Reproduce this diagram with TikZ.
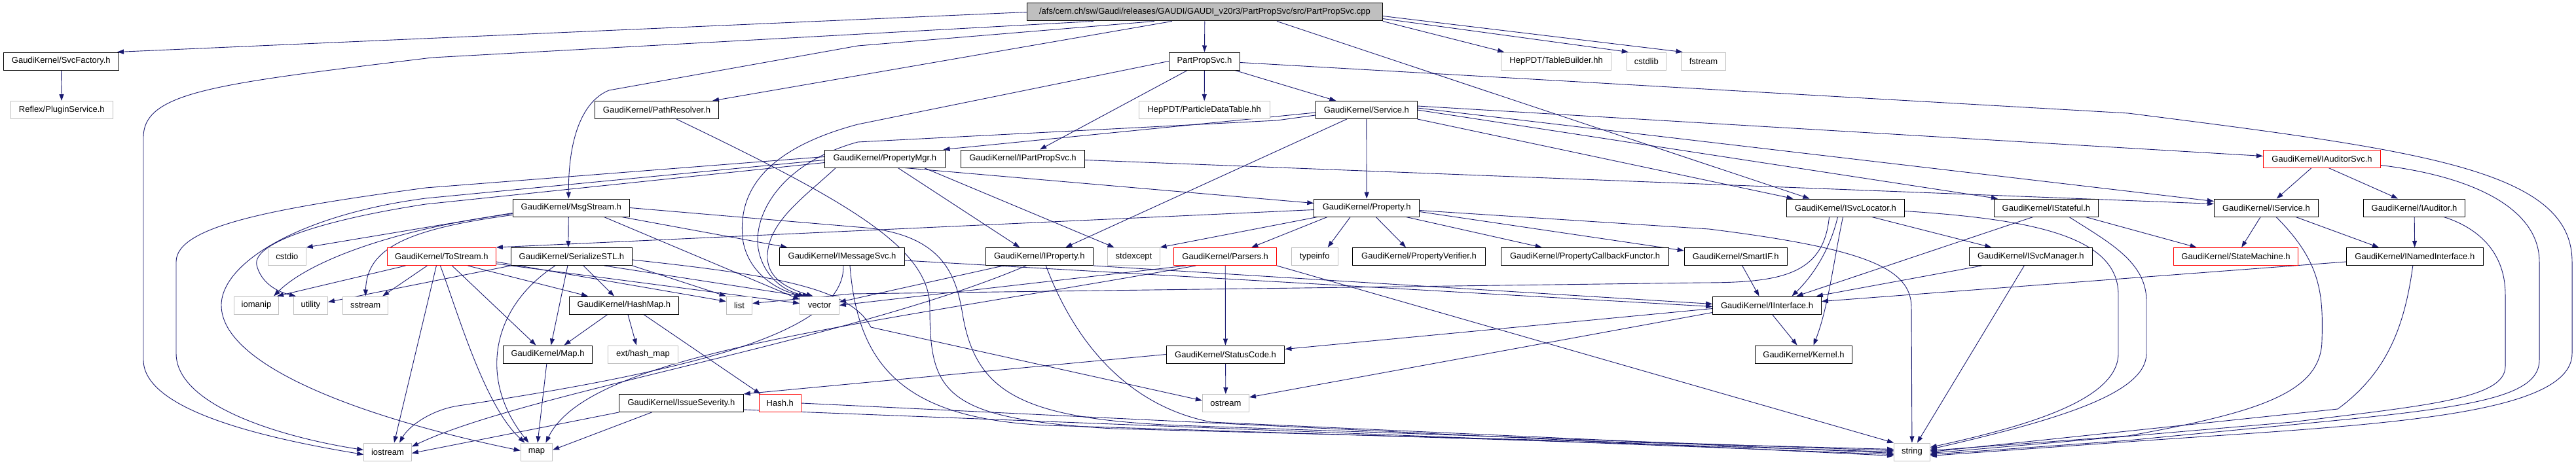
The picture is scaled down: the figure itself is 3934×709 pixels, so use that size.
\documentclass[tikz,border=0pt]{standalone}
\usepackage{fontspec}
\setmainfont{Liberation Sans}
\usetikzlibrary{arrows.meta}
\definecolor{navy}{RGB}{25,25,112}
\definecolor{extgray}{RGB}{191,191,191}
\definecolor{redb}{RGB}{255,0,0}
\pgfdeclarelayer{background}
\pgfsetlayers{background,main}
\begin{document}
\begin{tikzpicture}[x=1pt,y=-1pt,
  nd/.style={draw=black, fill=white, line width=1pt, rectangle, minimum height=27pt, inner sep=0pt, font=\fontsize{13}{15}\selectfont, text=black},
  ext/.style={nd, draw=extgray},
  rd/.style={nd, draw=redb},
  mn/.style={nd, fill=extgray},
  lnk/.style={draw=navy, line width=0.9pt, line join=round, -{Triangle[length=10pt,width=7pt]}},
]
\useasboundingbox (0,0) rectangle (3934,709);
% row 0
\node[mn, minimum width=542.7pt] (main) at (1839.9,18.5) {/afs/cern.ch/sw/Gaudi/releases/GAUDI/GAUDI\_v20r3/PartPropSvc/src/PartPropSvc.cpp};
% row 1
\node[nd, minimum width=176.3pt] (svcf) at (93.3,93.5) {GaudiKernel/SvcFactory.h};
\node[nd, minimum width=108.2pt] (pps) at (1839.4,93.5) {PartPropSvc.h};
\node[ext, minimum width=168pt] (tb) at (2376.6,93.5) {HepPDT/TableBuilder.hh};
\node[ext, minimum width=60.1pt] (cstdlib) at (2514.3,93.5) {cstdlib};
\node[ext, minimum width=68.7pt] (fstream) at (2601.5,93.5) {fstream};
% row 2
\node[ext, minimum width=156.6pt] (plugin) at (94.3,168) {Reflex/PluginService.h};
\node[nd, minimum width=188.1pt] (pathres) at (1003,168) {GaudiKernel/PathResolver.h};
\node[ext, minimum width=200.4pt] (pdt) at (1839.2,168) {HepPDT/ParticleDataTable.hh};
\node[nd, minimum width=154.8pt] (service) at (2086.8,168) {GaudiKernel/Service.h};
% row 3
\node[nd, minimum width=183.6pt] (pmgr) at (1351.3,242.5) {GaudiKernel/PropertyMgr.h};
\node[nd, minimum width=189pt] (ipps) at (1562,242.5) {GaudiKernel/IPartPropSvc.h};
\node[rd, minimum width=179.3pt] (iaudsvc) at (3546,242.5) {GaudiKernel/IAuditorSvc.h};
% row 4
\node[nd, minimum width=178.5pt] (msg) at (872.3,317.5) {GaudiKernel/MsgStream.h};
\node[nd, minimum width=160.8pt] (prop) at (2087.2,317.5) {GaudiKernel/Property.h};
\node[nd, minimum width=180pt] (isvcloc) at (2818.5,317.5) {GaudiKernel/ISvcLocator.h};
\node[nd, minimum width=159.1pt] (istate) at (3124.9,317.5) {GaudiKernel/IStateful.h};
\node[nd, minimum width=159.2pt] (iservice) at (3460.9,317.5) {GaudiKernel/IService.h};
\node[nd, minimum width=155.3pt] (iaud) at (3687,317.5) {GaudiKernel/IAuditor.h};
% row 5
\node[ext, minimum width=57.6pt] (cstdio) at (438.4,392) {cstdio};
\node[rd, minimum width=165.9pt] (tostream) at (674.4,392) {GaudiKernel/ToStream.h};
\node[nd, minimum width=184.8pt] (serial) at (872.9,392) {GaudiKernel/SerializeSTL.h};
\node[nd, minimum width=190.3pt] (imsg) at (1286,392) {GaudiKernel/IMessageSvc.h};
\node[nd, minimum width=164.6pt] (iprop) at (1587.3,392) {GaudiKernel/IProperty.h};
\node[ext, minimum width=79.1pt] (stdexcept) at (1731.5,392) {stdexcept};
\node[rd, minimum width=156.6pt] (parsers) at (1871.2,392) {GaudiKernel/Parsers.h};
\node[ext, minimum width=70.7pt] (typeinfo) at (2007.7,392) {typeinfo};
\node[nd, minimum width=203.3pt] (pverif) at (2167,392) {GaudiKernel/PropertyVerifier.h};
\node[nd, minimum width=256pt] (pcb) at (2420.6,392) {GaudiKernel/PropertyCallbackFunctor.h};
\node[nd, minimum width=157.1pt] (smartif) at (2650.7,392) {GaudiKernel/SmartIF.h};
\node[nd, minimum width=188.6pt] (isvcmgr) at (3101.3,392) {GaudiKernel/ISvcManager.h};
\node[rd, minimum width=190.2pt] (statem) at (3414.5,392) {GaudiKernel/StateMachine.h};
\node[nd, minimum width=208.9pt] (inamed) at (3687.8,392) {GaudiKernel/INamedInterface.h};
% row 6
\node[ext, minimum width=68.2pt] (iomanip) at (391.5,466.5) {iomanip};
\node[ext, minimum width=52.2pt] (utility) at (474.4,466.5) {utility};
\node[ext, minimum width=69.1pt] (sstream) at (558.2,466.5) {sstream};
\node[nd, minimum width=167.1pt] (hashmap) at (952.9,466.5) {GaudiKernel/HashMap.h};
\node[ext, minimum width=39.6pt] (list) at (1129,466.5) {list};
\node[ext, minimum width=59.8pt] (vector) at (1251.5,466.5) {vector};
\node[nd, minimum width=165.8pt] (iinterface) at (2698.5,466.5) {GaudiKernel/IInterface.h};
% row 7
\node[nd, minimum width=136.4pt] (gmap) at (836.5,541.5) {GaudiKernel/Map.h};
\node[ext, minimum width=107.4pt] (exthm) at (981.9,541.5) {ext/hash\_map};
\node[nd, minimum width=180.7pt] (status) at (1871.5,541.5) {GaudiKernel/StatusCode.h};
\node[nd, minimum width=148.2pt] (kernel) at (2754.5,541.5) {GaudiKernel/Kernel.h};
% row 8
\node[nd, minimum width=189.8pt] (issue) at (1040.4,616) {GaudiKernel/IssueSeverity.h};
\node[rd, minimum width=64pt] (hash) at (1191.3,616) {Hash.h};
\node[ext, minimum width=71.1pt] (ostream) at (1871.9,616) {ostream};
% row 9
\node[ext, minimum width=72.8pt] (iostream) at (592,690.5) {iostream};
\node[ext, minimum width=48.4pt] (smap) at (819.4,690.5) {map};
\node[ext, minimum width=54.8pt] (string) at (2919.9,690.5) {string};

\begin{pgfonlayer}{background}
\fill[white] (0,0) rectangle (3934,709);
% main file
\draw[lnk] (main.west) -- ([xshift=-3pt]svcf.north east);
\draw[lnk] ([xshift=-170pt]main.south) -- (660,88) .. controls (330,128) and (219,140) .. (219,210) -- (219,550) .. controls (219,630) and (420,672) .. ([yshift=-4pt]iostream.west);
\draw[lnk] ([xshift=-77pt]main.south) -- (1310,70) -- (930,138) .. controls (895,152) and (868,200) .. ([xshift=-4pt]msg.north);
\draw[lnk] ([xshift=-50pt]main.south) -- ([xshift=85pt]pathres.north);
\draw[lnk] (main) -- (pps);
\draw[lnk] (main.south east) -- ([xshift=5pt]tb.north west);
\draw[lnk] ([yshift=4pt]main.south east) -- ([xshift=3pt]cstdlib.north west);
\draw[lnk] ([yshift=8pt]main.south east) -- ([xshift=3pt]fstream.north west);
\draw[lnk] ([xshift=110pt]main.south) -- ([xshift=-55pt]isvcloc.north);
% SvcFactory
\draw[lnk] (svcf) -- (plugin);
% PartPropSvc.h
\draw[lnk] (pps) -- (pdt);
\draw[lnk] (pps) -- (ipps);
\draw[lnk] (pps) -- (service);
\draw[lnk] (pps.west) -- (1310,190) .. controls (1160,230) and (1125,300) .. (1135,370) .. controls (1145,420) and (1190,445) .. ([xshift=-22pt]vector.north);
\draw[lnk] ([yshift=-2pt]pps.east) -- (3250,173) .. controls (3700,230) and (3928,260) .. (3928,400) -- (3928,540) .. controls (3928,640) and (3600,650) .. (3250,675) -- ([yshift=-6pt]string.east);
% PathResolver
\draw[lnk] ([xshift=30pt]pathres.south) .. controls (1300,310) and (1420,380) .. (1420,470) .. controls (1420,600) and (1440,640) .. (1700,655) -- ([yshift=4pt]string.west);
% Service
\draw[lnk] (service) -- (prop);
\draw[lnk] ([yshift=-4pt]service.west) -- ([xshift=-3pt]pmgr.north east);
\draw[lnk] ([xshift=-30pt]service.south) -- ([xshift=40pt]iprop.north);
\draw[lnk] (service.south east) -- ([xshift=-80pt]isvcloc.north);
\draw[lnk] (service.east) -- ([xshift=6pt]istate.north west);
\draw[lnk] ([yshift=3pt]service.east) -- ([yshift=10pt]iservice.west);
\draw[lnk] ([yshift=6pt]service.east) -- ([yshift=4pt]iaudsvc.west);
\draw[lnk] ([yshift=-8pt]service.west) -- (1950,184) -- (1310,217) .. controls (1190,250) and (1150,330) .. (1158,380) .. controls (1165,420) and (1195,445) .. ([xshift=-16pt]vector.north);
% PropertyMgr
\draw[lnk] ([xshift=30pt]pmgr.south) -- ([yshift=7pt]prop.west);
\draw[lnk] ([xshift=20pt]pmgr.south) -- ([xshift=-30pt]iprop.north);
\draw[lnk] ([xshift=60pt]pmgr.south) -- ([xshift=-30pt]stdexcept.north);
\draw[lnk] ([yshift=3pt]pmgr.west) -- (650,287) .. controls (420,318) and (269,345) .. (269,400) -- (269,540) .. controls (269,620) and (430,668) .. ([yshift=3pt]iostream.west);
\draw[lnk] ([yshift=-2pt]pmgr.west) -- (650,303) .. controls (460,328) and (340,400) .. (338,465) .. controls (336,560) and (560,640) .. ([yshift=2pt]smap.west);
\draw[lnk] ([yshift=-6pt]pmgr.west) -- (650,312) .. controls (500,335) and (385,370) .. (392,405) .. controls (398,430) and (420,445) .. ([xshift=4pt]utility.north west);
\draw[lnk] ([xshift=-75pt]pmgr.south) .. controls (1230,300) and (1170,340) .. (1172,395) .. controls (1174,425) and (1200,440) .. ([xshift=-10pt]vector.north);
% IPartPropSvc
\draw[lnk] ([yshift=-2pt]ipps.east) -- ([yshift=6pt]iservice.west);
% IAuditorSvc
\draw[lnk] (iaudsvc) -- (iservice);
\draw[lnk] ([xshift=10pt]iaudsvc.south) -- ([xshift=-25pt]iaud.north);
\draw[lnk] ([yshift=-10pt]iaudsvc.east) .. controls (3780,270) and (3878,320) .. (3878,400) -- (3878,550) .. controls (3878,625) and (3700,628) .. (3250,673) -- ([yshift=-4pt]string.east);
% IAuditor
\draw[lnk] (iaud) -- (inamed);
\draw[lnk] ([xshift=45pt]iaud.south) .. controls (3790,350) and (3826,390) .. (3826,450) -- (3826,560) .. controls (3826,610) and (3700,620) .. (3500,645) -- ([yshift=-2pt]string.east);
% IService
\draw[lnk] (iservice) -- (statem);
\draw[lnk] ([xshift=45pt]iservice.south) -- ([xshift=-55pt]inamed.north);
\draw[lnk] ([xshift=15pt]iservice.south) .. controls (3545,400) and (3548,450) .. (3546,520) .. controls (3545,600) and (3450,630) .. (3250,666) -- ([yshift=2pt]string.east);
% IStateful
\draw[lnk] ([xshift=60pt]istate.south) -- ([xshift=-60pt]statem.north);
\draw[lnk] ([xshift=-20pt]istate.south) -- ([xshift=45pt]iinterface.north);
\draw[lnk] ([xshift=35pt]istate.south) .. controls (3220,370) and (3278,400) .. (3278,460) -- (3278,540) .. controls (3278,600) and (3150,640) .. ([yshift=4pt]string.east);
% ISvcLocator
\draw[lnk] ([xshift=40pt]isvcloc.south) -- ([xshift=-60pt]isvcmgr.north);
\draw[lnk] ([xshift=-12pt]isvcloc.south) .. controls (2795,380) and (2770,420) .. ([xshift=38pt]iinterface.north);
\draw[lnk] ([xshift=-4pt]isvcloc.south) .. controls (2800,400) and (2792,470) .. ([xshift=15pt]kernel.north);
\draw[lnk] ([xshift=-25pt]isvcloc.south) .. controls (2785,420) and (2720,432) .. (2600,432) -- (1300,449) -- ([yshift=3pt]list.east);
\draw[lnk] ([yshift=-5pt]isvcloc.east) .. controls (3100,335) and (3235,360) .. (3235,450) -- (3235,540) .. controls (3235,610) and (3100,650) .. ([yshift=7pt]string.east);
% ISvcManager
\draw[lnk] ([xshift=20pt]isvcmgr.south west) -- ([xshift=-8pt]iinterface.north east);
\draw[lnk] ([xshift=-10pt]isvcmgr.south) -- ([xshift=8pt]string.north);
% INamedInterface
\draw[lnk] ([yshift=-8pt]inamed.west) -- ([yshift=6pt]iinterface.east);
\draw[lnk] ([xshift=-3pt]inamed.south) .. controls (3672,500) and (3645,570) .. (3570,625) -- (string.east);
% Property
\draw[lnk] ([xshift=-25pt]prop.south) -- ([xshift=20pt]typeinfo.north);
\draw[lnk] ([xshift=14pt]prop.south) -- ([xshift=-20pt]pverif.north);
\draw[lnk] ([xshift=60pt]prop.south) -- ([xshift=-66pt]pcb.north);
\draw[lnk] ([yshift=-6pt]prop.east) -- ([yshift=-5pt]smartif.north west);
\draw[lnk] ([xshift=-60pt]prop.south) -- ([xshift=40pt]parsers.north);
\draw[lnk] ([xshift=-75pt]prop.south) -- (stdexcept.north east);
\draw[lnk] ([yshift=-3pt]prop.west) -- (tostream.north east);
\draw[lnk] ([yshift=-4pt]prop.east) -- (2610,350) .. controls (2850,380) and (2919,410) .. (2919,470) -- (string.north);
% IProperty
\draw[lnk] (iprop.south east) -- ([yshift=2pt]iinterface.west);
\draw[lnk] ([xshift=-55pt]iprop.south) -- ([yshift=5pt]vector.east);
\draw[lnk] ([xshift=-20pt]iprop.south) .. controls (1300,520) and (800,600) .. ([yshift=8pt]iostream.east);
\draw[lnk] ([xshift=10pt]iprop.south) .. controls (1640,520) and (1720,620) .. (1850,645) -- ([yshift=-2pt]string.west);
% IMessageSvc
\draw[lnk] ([yshift=-6pt]imsg.east) -- ([yshift=-2pt]iinterface.west);
\draw[lnk] ([xshift=12pt]imsg.south) .. controls (1310,560) and (1380,640) .. (1600,650) -- (string.west);
\draw[lnk] ([xshift=2pt]imsg.south) .. controls (1290,500) and (1100,560) .. (700,620) .. controls (660,626) and (625,650) .. ([xshift=18pt]iostream.north);
% MsgStream
\draw[lnk] ([xshift=-4pt]msg.south) -- ([xshift=-5pt]serial.north);
\draw[lnk] ([xshift=77pt]msg.south) -- ([xshift=12pt]imsg.north west);
\draw[lnk] ([yshift=-8pt]msg.west) -- (cstdio.north east);
\draw[lnk] ([yshift=-9pt]msg.west) .. controls (600,350) and (470,400) .. ([xshift=-8pt]iomanip.north east);
\draw[lnk] ([yshift=-11pt]msg.west) .. controls (620,350) and (560,380) .. (sstream.north);
\draw[lnk] ([xshift=50pt]msg.south) -- ([yshift=9pt]vector.west);
\draw[lnk] (msg.east) -- (1310,347) .. controls (1440,356) and (1460,420) .. (1470,480) .. controls (1490,600) and (1560,640) .. (1800,650) -- ([yshift=2pt]string.west);
% SerializeSTL
\draw[lnk] ([xshift=18pt]serial.south) -- ([xshift=-15pt]hashmap.north);
\draw[lnk] ([xshift=-6pt]serial.south) -- ([xshift=5pt]gmap.north);
\draw[lnk] ([xshift=-25pt]serial.south) .. controls (750,470) and (730,580) .. ([xshift=-12pt]smap.north);
\draw[lnk] (serial.south east) -- (list.north west);
\draw[lnk] ([xshift=50pt]serial.south) -- ([xshift=-27pt]vector.north);
\draw[lnk] (serial.south west) -- ([yshift=5pt]utility.east);
\draw[lnk] ([yshift=-5pt]serial.east) .. controls (1180,420) and (1300,440) .. (1330,500) -- ([yshift=4pt]ostream.west);
% ToStream
\draw[lnk] ([xshift=-55pt]tostream.south) -- ([xshift=-3pt]iomanip.north east);
\draw[lnk] ([xshift=-22pt]tostream.south) -- ([xshift=26pt]sstream.north);
\draw[lnk] ([xshift=-8pt]tostream.south) -- ([xshift=10pt]iostream.north);
\draw[lnk] ([xshift=-2pt]tostream.south) .. controls (700,480) and (740,620) .. ([xshift=-18pt]smap.north);
\draw[lnk] ([xshift=16pt]tostream.south) -- ([xshift=-18pt]gmap.north);
\draw[lnk] ([xshift=40pt]tostream.south) -- ([xshift=-55pt]hashmap.north);
\draw[lnk] ([yshift=-8pt]tostream.east) -- ([yshift=6pt]list.west);
\draw[lnk] ([yshift=-11pt]tostream.east) -- ([yshift=3pt]vector.west);
% HashMap
\draw[lnk] ([xshift=-25pt]hashmap.south) -- ([xshift=25pt]gmap.north);
\draw[lnk] ([xshift=6pt]hashmap.south) -- ([xshift=-10pt]exthm.north);
\draw[lnk] ([xshift=30pt]hashmap.south) -- ([xshift=-30pt]hash.north);
% Map.h
\draw[lnk] (gmap) -- (smap);
% Parsers
\draw[lnk] (parsers) -- (status);
\draw[lnk] ([xshift=-45pt]parsers.south) .. controls (1300,500) and (900,540) .. ([xshift=14pt]smap.north);
\draw[lnk] (parsers.south east) -- (string.north west);
\draw[lnk] ([xshift=-60pt]parsers.south) -- (vector.east);
% StatusCode
\draw[lnk] (status) -- (ostream);
\draw[lnk] (status.west) -- (issue.north east);
% IssueSeverity
\draw[lnk] ([xshift=-45pt]issue.south) -- ([yshift=3pt]smap.east);
\draw[lnk] (issue.south west) -- ([yshift=-2pt]iostream.east);
\draw[lnk] ([yshift=-10pt]issue.east) -- ([yshift=-4pt]string.west);
% Hash
\draw[lnk] (hash.east) -- ([yshift=-6pt]string.west);
% IInterface
\draw[lnk] ([xshift=8pt]iinterface.south) -- ([xshift=-10pt]kernel.north);
\draw[lnk] ([yshift=-5pt]iinterface.west) -- ([yshift=8pt]status.east);
\draw[lnk] ([yshift=-11pt]iinterface.west) -- ([yshift=9pt]ostream.east);
% SmartIF
\draw[lnk] ([xshift=10pt]smartif.south) -- ([xshift=-12pt]iinterface.north);
\end{pgfonlayer}
\end{tikzpicture}
\end{document}
